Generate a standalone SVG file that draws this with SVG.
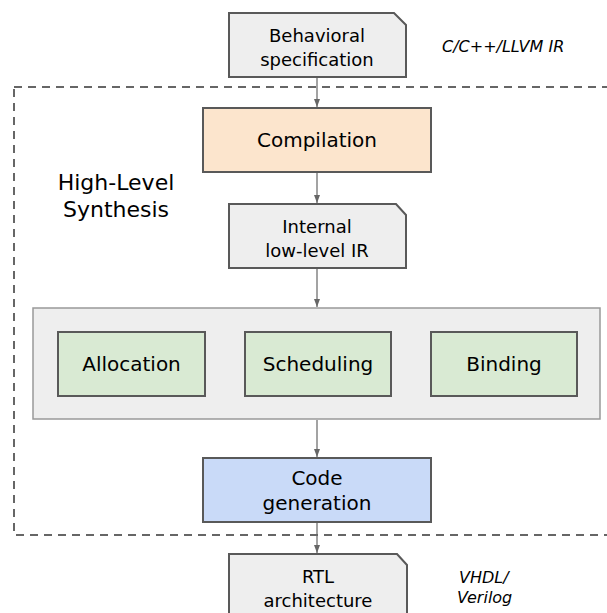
<svg xmlns="http://www.w3.org/2000/svg" width="607" height="613" viewBox="0 0 607 613">
<defs>
<marker id="arr" viewBox="0 0 8 8" refX="8" refY="4" markerWidth="8" markerHeight="8" markerUnits="userSpaceOnUse" orient="auto">
<path d="M0,1 L8,4 L0,7 Z" fill="#666"/>
</marker>
<style>
.node{stroke:#595959;stroke-width:2}
.doc{fill:#eeeeee}
.t{font-family:"DejaVu Sans",sans-serif;fill:#000;text-anchor:middle}
.it{font-family:"DejaVu Sans",sans-serif;font-style:italic;fill:#000}
.conn{stroke:#666;stroke-width:1.2;fill:none;marker-end:url(#arr)}
</style>
</defs>
<rect width="607" height="613" fill="#fff"/>
<g id="hls">
<rect x="14" y="87" width="600" height="448" fill="none" stroke="#666" stroke-width="2" stroke-dasharray="8,6"/>
<text class="t" font-size="22" x="116" y="190">High-Level</text>
<text class="t" font-size="22" x="116" y="217">Synthesis</text>
</g>
<g id="container">
<rect x="33" y="308" width="567" height="111" fill="#eeeeee" stroke="#999" stroke-width="1.5"/>
</g>
<g id="behavioral">
<path class="node doc" d="M229,13 H394 L406,25 V77 H229 Z"/>
<text class="t" font-size="18" x="317" y="42">Behavioral</text>
<text class="t" font-size="18" x="317" y="66">specification</text>
</g>
<g id="lang">
<text class="it" font-size="16" x="442" y="52">C/C++/LLVM IR</text>
</g>
<g id="compilation">
<rect class="node" x="203" y="108" width="228" height="64" fill="#fce5cd"/>
<text class="t" font-size="20" x="317" y="147">Compilation</text>
</g>
<g id="internal">
<path class="node doc" d="M229,204 H396 L406,215 V268 H229 Z"/>
<text class="t" font-size="18" x="317" y="233">Internal</text>
<text class="t" font-size="18" x="317" y="257">low-level IR</text>
</g>
<g id="allocation">
<rect class="node" x="58" y="332" width="147" height="64" fill="#d9ead3"/>
<text class="t" font-size="20" x="131.5" y="371">Allocation</text>
</g>
<g id="scheduling">
<rect class="node" x="245" y="332" width="146" height="64" fill="#d9ead3"/>
<text class="t" font-size="20" x="318" y="371">Scheduling</text>
</g>
<g id="binding">
<rect class="node" x="431" y="332" width="146" height="64" fill="#d9ead3"/>
<text class="t" font-size="20" x="504" y="371">Binding</text>
</g>
<g id="codegen">
<rect class="node" x="203" y="458" width="228" height="64" fill="#c9daf8"/>
<text class="t" font-size="20" x="317" y="485">Code</text>
<text class="t" font-size="20" x="317" y="510">generation</text>
</g>
<g id="rtl">
<path class="node doc" d="M229,554 H397 L407,565 V622 H229 Z"/>
<text class="t" font-size="18" x="318" y="583">RTL</text>
<text class="t" font-size="18" x="318" y="607">architecture</text>
</g>
<g id="hdl">
<text class="it" font-size="16" x="459" y="583">VHDL/</text>
<text class="it" font-size="16" x="457" y="603">Verilog</text>
</g>
<g id="connectors">
<line class="conn" x1="317" y1="78" x2="317" y2="107"/>
<line class="conn" x1="317" y1="173" x2="317" y2="203"/>
<line class="conn" x1="317" y1="269" x2="317" y2="307"/>
<line class="conn" x1="317" y1="420" x2="317" y2="457"/>
<line class="conn" x1="317" y1="523" x2="317" y2="553"/>
</g>
</svg>
